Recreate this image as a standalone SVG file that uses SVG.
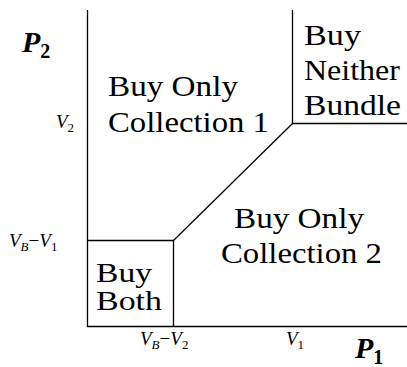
<svg xmlns="http://www.w3.org/2000/svg" width="407" height="367" viewBox="0 0 407 367">
<rect width="407" height="367" fill="#fff"/>
<g id="connectors" stroke="#000" stroke-width="1.3" fill="none">
<path d="M87.5 10 V326.5 H407"/>
<path d="M87.5 240.5 H173.5 V326.5"/>
<path d="M173.5 240.5 L292.5 123.5"/>
<path d="M292.5 10 V123.5 H407"/>
</g>
<g font-family="Liberation Serif, serif" font-size="29" fill="#000">
<g id="region-collection1">
<text x="108" y="96" textLength="130" lengthAdjust="spacingAndGlyphs">Buy Only</text>
<text x="108" y="132" textLength="161" lengthAdjust="spacingAndGlyphs">Collection 1</text>
</g>
<g id="region-neither">
<text x="304" y="45" textLength="57" lengthAdjust="spacingAndGlyphs">Buy</text>
<text x="304" y="80" textLength="96" lengthAdjust="spacingAndGlyphs">Neither</text>
<text x="304" y="115" textLength="97" lengthAdjust="spacingAndGlyphs">Bundle</text>
</g>
<g id="region-collection2">
<text x="234" y="228" textLength="130" lengthAdjust="spacingAndGlyphs">Buy Only</text>
<text x="221" y="263" textLength="161" lengthAdjust="spacingAndGlyphs">Collection 2</text>
</g>
<g id="region-both" font-size="27">
<text x="96" y="282" textLength="56" lengthAdjust="spacingAndGlyphs">Buy</text>
<text x="96" y="310" textLength="66" lengthAdjust="spacingAndGlyphs">Both</text>
</g>
</g>
<g id="axis-labels" font-family="Liberation Serif, serif" fill="#000">
<g font-size="30" font-style="italic" font-weight="bold">
<text x="22" y="52">P<tspan font-size="20" font-style="normal" dy="6">2</tspan></text>
<text x="355" y="358">P<tspan font-size="20" font-style="normal" dy="6">1</tspan></text>
</g>
<g font-size="19" font-style="italic">
<text x="56" y="128">V<tspan font-size="13" font-style="normal" dy="4">2</tspan></text>
<text x="9" y="247">V<tspan font-size="13" dy="4">B</tspan><tspan dy="-4" font-style="normal">−</tspan>V<tspan font-size="13" font-style="normal" dy="4">1</tspan></text>
<text x="140" y="345">V<tspan font-size="13" dy="4">B</tspan><tspan dy="-4" font-style="normal">−</tspan>V<tspan font-size="13" font-style="normal" dy="4">2</tspan></text>
<text x="286" y="345">V<tspan font-size="13" font-style="normal" dy="4">1</tspan></text>
</g>
</g>
</svg>
